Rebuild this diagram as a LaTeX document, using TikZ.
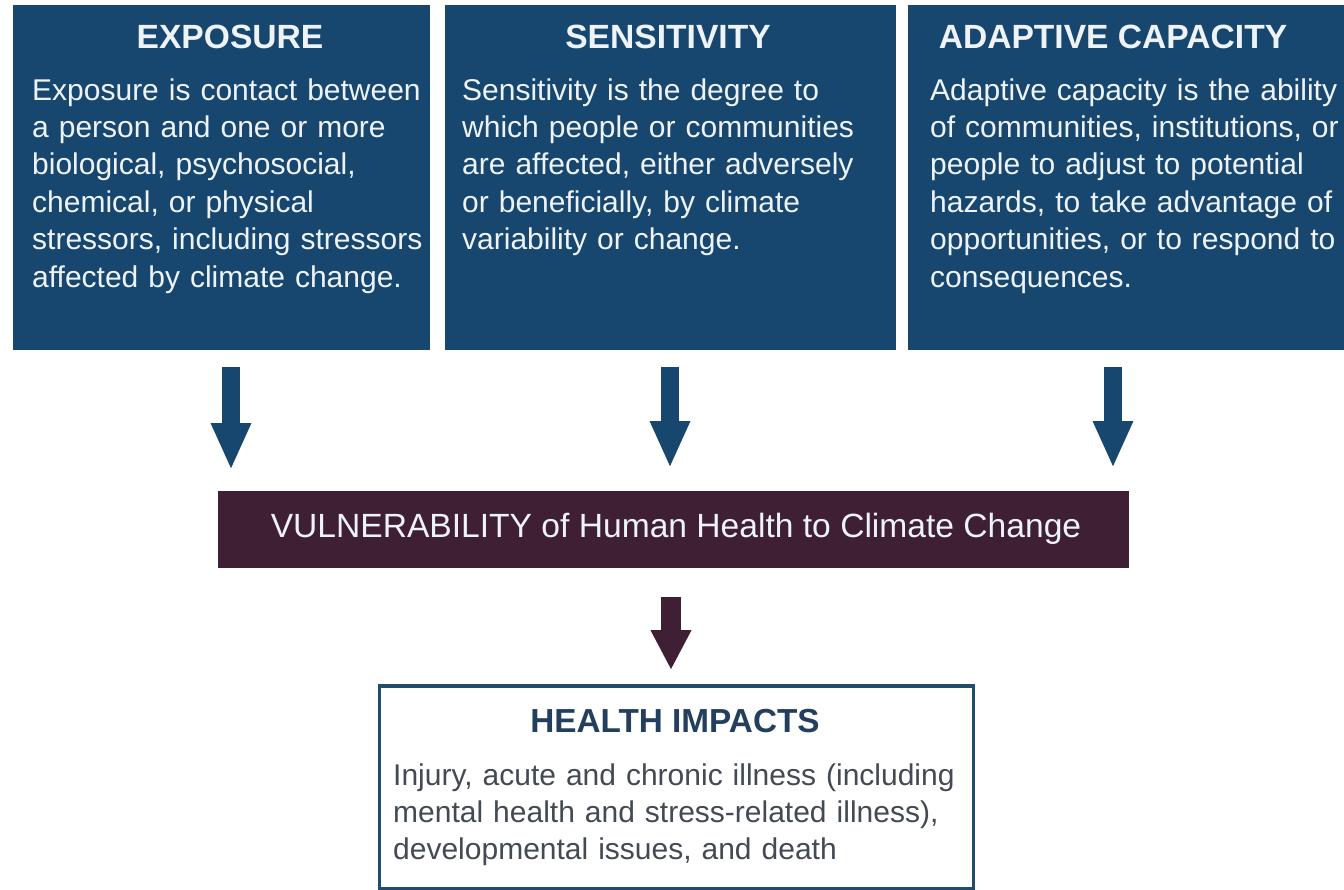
\documentclass[tikz,border=0pt]{standalone}
\usepackage{fontspec}
\setmainfont{Liberation Sans}
\usetikzlibrary{arrows.meta}
\definecolor{boxblue}{HTML}{17466E}
\definecolor{plum}{HTML}{3E1F33}
\definecolor{boxtext}{HTML}{EEF3F8}
\definecolor{hiborder}{HTML}{1E4D70}
\definecolor{hititle}{HTML}{223F5E}
\definecolor{hibody}{HTML}{434A54}
\begin{document}
\begin{tikzpicture}[x=1pt,y=-1pt,
  bluebox/.style={fill=boxblue, draw=none, inner sep=0pt, outer sep=0pt, anchor=north west},
  ttl/.style={font=\fontsize{33.6}{40}\selectfont\bfseries, text=boxtext, inner sep=0pt, anchor=base},
  bodytext/.style={font=\fontsize{30}{37.4}\selectfont, text=boxtext, inner sep=0pt, anchor=north west, align=left, text width=420pt},
  bluearrow/.style={draw=boxblue, line width=18pt, -{Triangle[width=37pt,length=47pt]}},
  plumarrow/.style={draw=plum, line width=20pt, -{Triangle[width=38pt,length=40pt]}}
]
\useasboundingbox (0,0) rectangle (1344,889);
\fill[white] (0,0) rectangle (1344,889);

% top boxes
\node[bluebox, minimum width=417pt, minimum height=345pt] (exp) at (13,5) {};
\node[bluebox, minimum width=451pt, minimum height=345pt] (sen) at (445,5) {};
\node[bluebox, minimum width=436pt, minimum height=345pt] (ada) at (908,5) {};

\node[ttl] (expt) at (230,48) {EXPOSURE};
\node[ttl] (sent) at (668,48) {SENSITIVITY};
\node[ttl] (adat) at (1113,48) {ADAPTIVE CAPACITY};

\node[bodytext] (expb) at (32,73.8) {\strut Exposure is contact between\\a person and one or more\\biological, psychosocial,\\chemical, or physical\\stressors, including stressors\\affected by climate change.};
\node[bodytext] (senb) at (462,73.8) {\strut Sensitivity is the degree to\\which people or communities\\are affected, either adversely\\or beneficially, by climate\\variability or change.};
\node[bodytext] (adab) at (930,73.8) {\strut Adaptive capacity is the ability\\of communities, institutions, or\\people to adjust to potential\\hazards, to take advantage of\\opportunities, or to respond to\\consequences.};

% vulnerability bar
\node[fill=plum, inner sep=0pt, outer sep=0pt, anchor=north west, minimum width=911pt, minimum height=77pt] (vul) at (218,491) {};
\node[font=\fontsize{33.6}{40}\selectfont, text=boxtext, inner sep=0pt, anchor=base] (vult) at (676,537) {VULNERABILITY of Human Health to Climate Change};

% health impacts box
\node[draw=hiborder, line width=3.5pt, fill=white, inner sep=0pt, anchor=north west, minimum width=594pt, minimum height=203pt] (hi) at (377.5,684) {};
\node[font=\fontsize{33.3}{40}\selectfont\bfseries, text=hititle, inner sep=0pt, anchor=base] (hit) at (675,732) {HEALTH IMPACTS};
\node[font=\fontsize{30}{37.4}\selectfont, text=hibody, inner sep=0pt, anchor=north west, align=left, text width=570pt] (hib) at (393,758.8) {\strut Injury, acute and chronic illness (including\\mental health and stress-related illness),\\developmental issues, and death};

% arrows
\coordinate (a1s) at (231,367);
\coordinate (a1e) at (231,470);
\coordinate (a2s) at (670,367);
\coordinate (a2e) at (670,468);
\coordinate (a3s) at (1113,367);
\coordinate (a3e) at (1113,468);
\coordinate (a4s) at (671,597);
\coordinate (a4e) at (671,670);
\draw[bluearrow] (a1s) -- (a1e);
\draw[bluearrow] (a2s) -- (a2e);
\draw[bluearrow] (a3s) -- (a3e);
\draw[plumarrow] (a4s) -- (a4e);
\end{tikzpicture}
\end{document}
